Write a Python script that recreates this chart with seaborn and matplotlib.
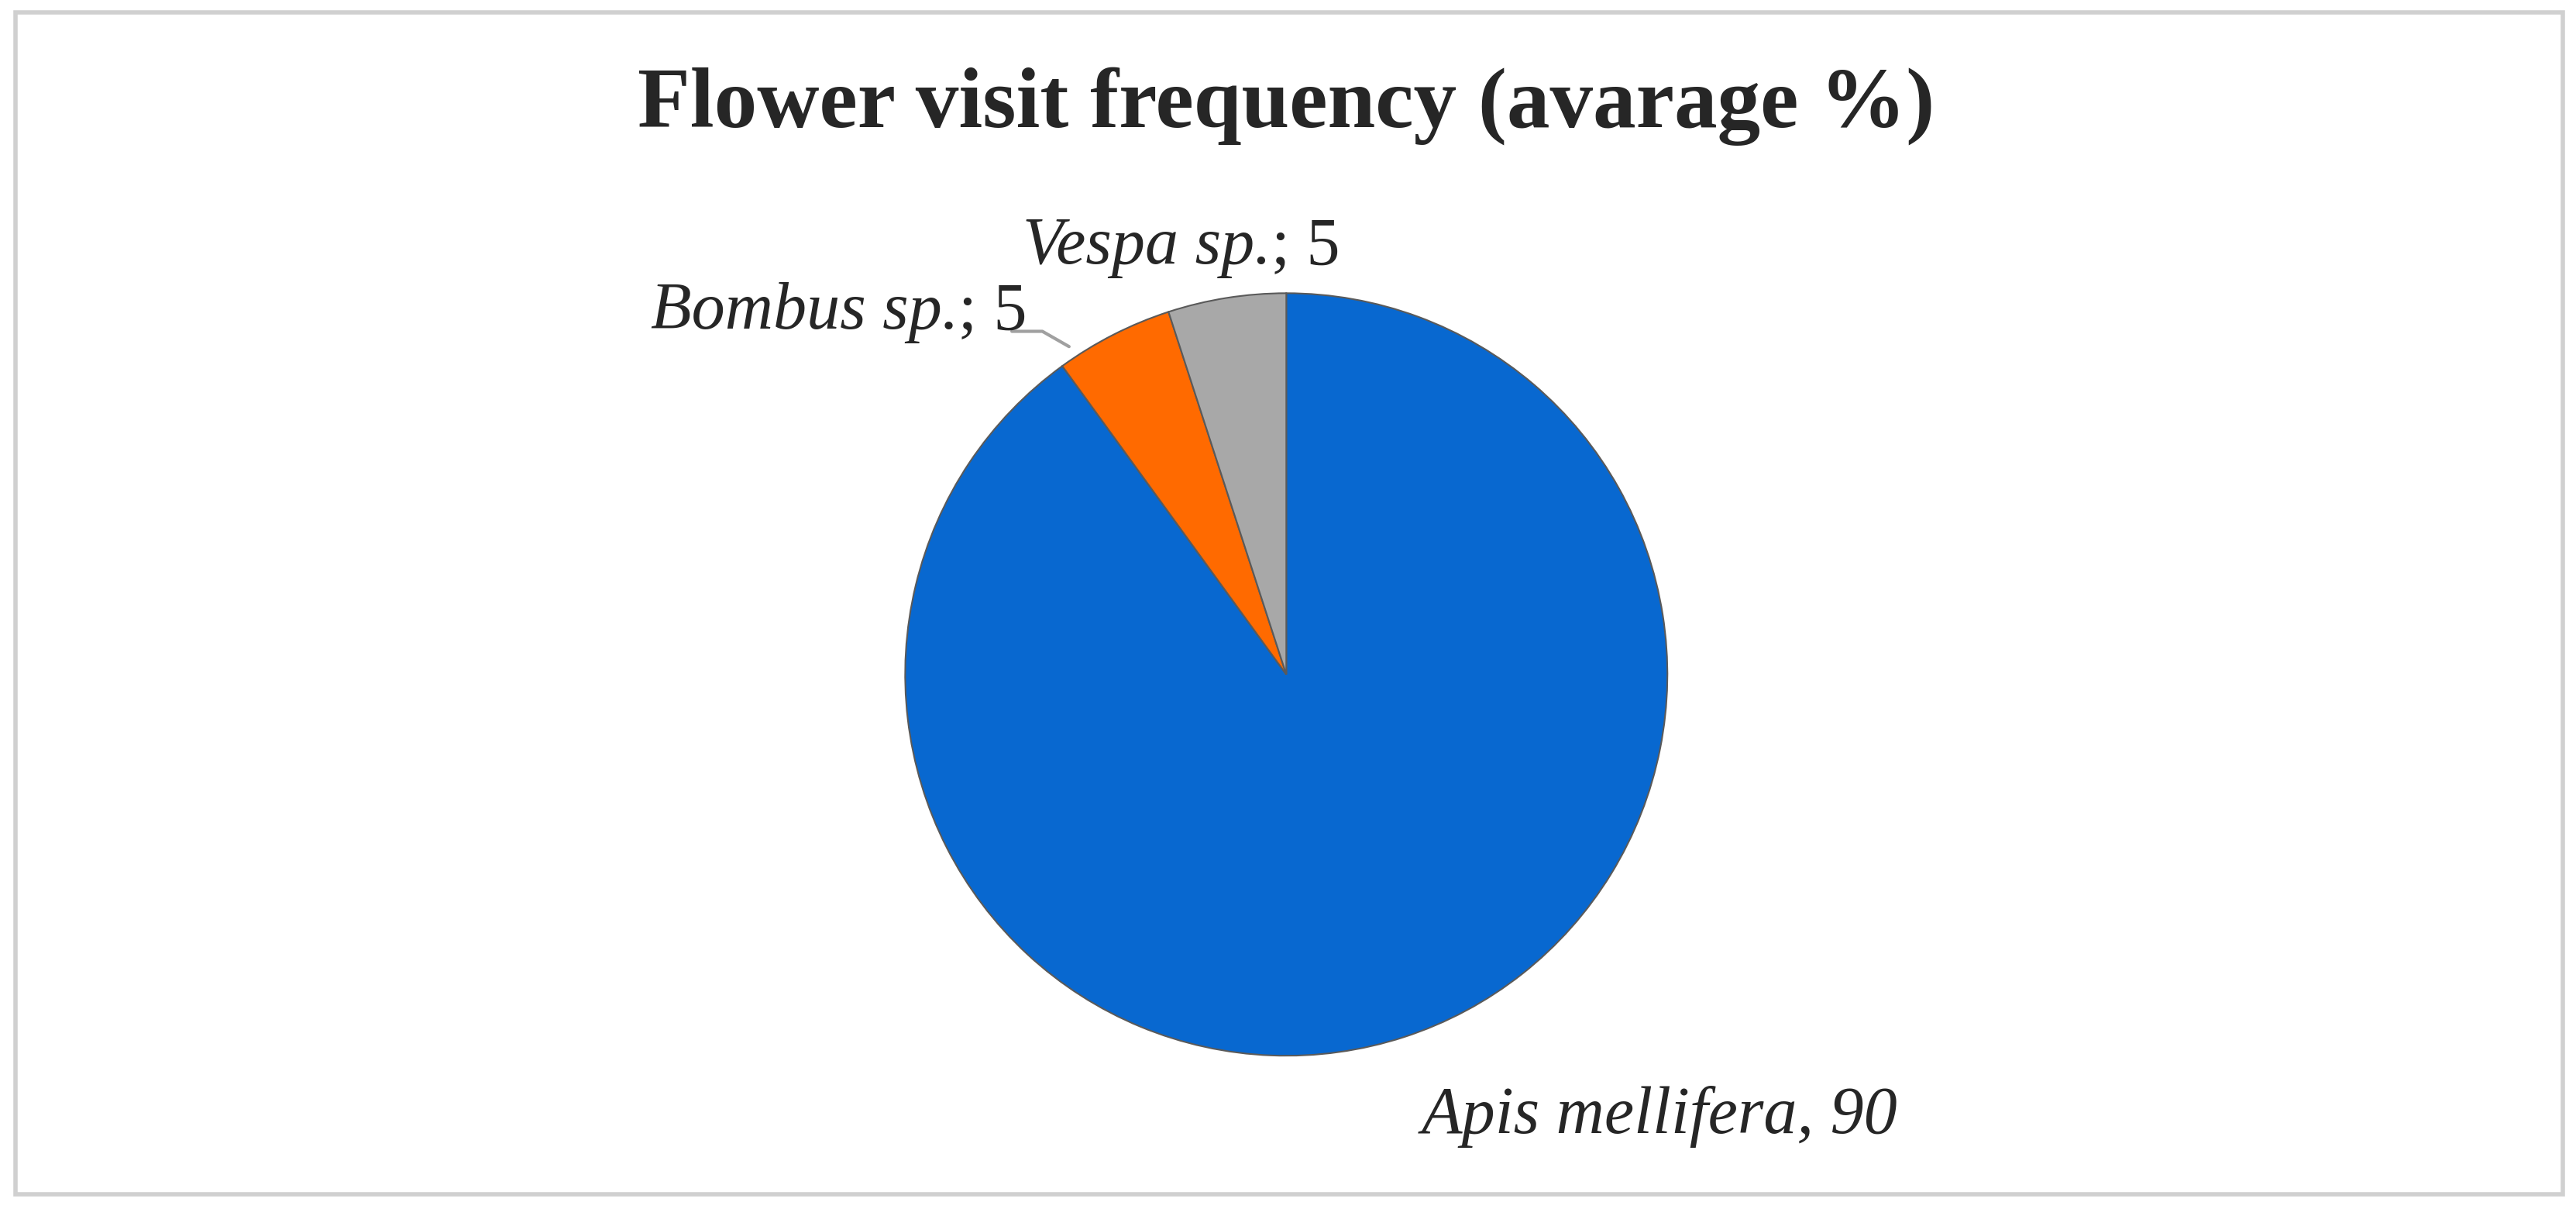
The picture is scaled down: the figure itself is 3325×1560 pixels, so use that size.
import matplotlib
matplotlib.use('Agg')
import matplotlib.pyplot as plt
import seaborn as sns
from matplotlib.patches import Rectangle

# Data
species = ['Apis mellifera', 'Bombus sp.', 'Vespa sp.']
share = [90, 5, 5]
colors = ['#0868D0', '#FF6A00', '#A8A8A8']

sns.set_theme(style='white')
plt.rcParams['font.family'] = ['Liberation Serif', 'DejaVu Serif']
serif = ['Liberation Serif', 'DejaVu Serif']

fig = plt.figure(figsize=(33.25, 15.6), dpi=100)
ax = fig.add_axes([0, 0, 1, 1])

ax.pie(share, colors=colors, startangle=90, counterclock=False,
       wedgeprops={'edgecolor': '#5a5a5a', 'linewidth': 1.5})
ax.set_xlim(-3.375, 3.384)
ax.set_ylim(-1.40, 1.767)
ax.set_aspect('equal')
ax.axis('off')

ax.text(0, 1.49, 'Flower visit frequency (avarage %)', ha='center', va='center',
        fontsize=80, fontweight='bold', family=serif)

# mixed italic / upright labels
ax.text(-0.04, 1.12, 'Vespa sp.', ha='right', va='center', fontsize=62,
        style='italic', family=serif)
ax.text(-0.04, 1.12, '; 5', ha='left', va='center', fontsize=62, family=serif)
ax.text(-0.86, 0.95, 'Bombus sp.', ha='right', va='center', fontsize=62,
        style='italic', family=serif)
ax.text(-0.86, 0.95, '; 5', ha='left', va='center', fontsize=62, family=serif)
ax.plot([-0.72, -0.64, -0.57], [0.90, 0.90, 0.86], color='#a0a0a0', lw=3)
ax.text(0.98, -1.16, 'Apis mellifera, 90', ha='center', va='center', fontsize=62,
        style='italic', family=serif)

fig.patches.append(Rectangle((0.006, 0.012), 0.989, 0.978, transform=fig.transFigure,
                             fill=False, edgecolor='#d0d0d0', linewidth=4))

fig.savefig('out.png', dpi=100)
